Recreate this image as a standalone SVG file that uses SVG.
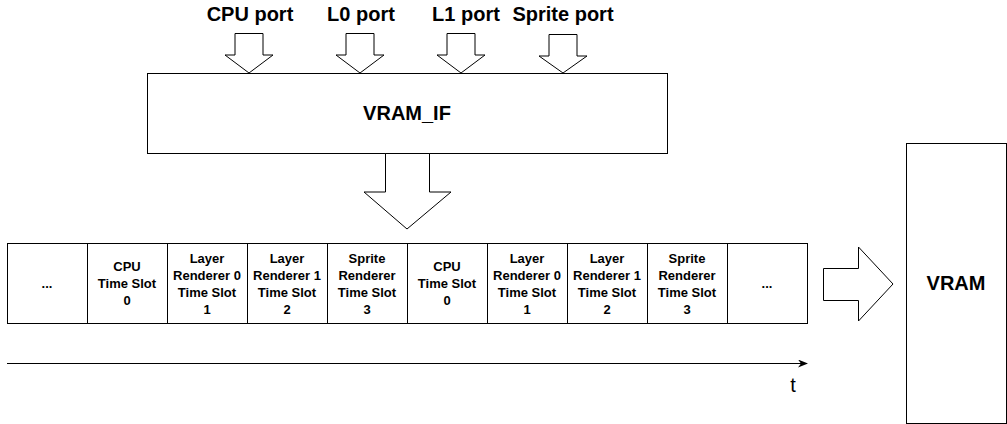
<svg xmlns="http://www.w3.org/2000/svg" width="1007" height="424" viewBox="0 0 1007 424">
<style>
.b{fill:#fff;stroke:#000;stroke-width:1}
.a{fill:#fff;stroke:#000;stroke-width:1}
text{font-family:"Liberation Sans",Arial,sans-serif;text-anchor:middle;fill:#000}
.p{font-size:20px;font-weight:bold}
.s{font-size:13px;font-weight:bold}
.l{font-size:20px;font-weight:bold}
</style>
<defs><marker id="ah" markerWidth="10" markerHeight="8" refX="9" refY="4" orient="auto" markerUnits="userSpaceOnUse"><path d="M0,0 L10,4 L0,8 L3,4 Z" fill="#000"/></marker></defs>
<rect width="1007" height="424" fill="#fff"/>
<g id="labels">
<text class="p" x="250" y="21">CPU port</text>
<text class="p" x="361" y="21">L0 port</text>
<text class="p" x="466" y="21">L1 port</text>
<text class="p" x="563" y="21">Sprite port</text>
</g>
<g id="vram_if"><rect class="b" x="147.5" y="73.5" width="520" height="80"/><text class="l" x="407" y="120">VRAM_IF</text></g>
<g id="vram"><rect class="b" x="906.5" y="143.5" width="100" height="280"/><text class="l" x="956" y="290">VRAM</text></g>
<g id="slots">
<rect class="b" x="7.5" y="243.5" width="80" height="80"/><text class="s" x="47" y="288">...</text>
<rect class="b" x="87.5" y="243.5" width="80" height="80"/><text class="s"><tspan x="127" y="271">CPU</tspan><tspan x="127" y="288">Time Slot</tspan><tspan x="127" y="305">0</tspan></text>
<rect class="b" x="167.5" y="243.5" width="80" height="80"/><text class="s"><tspan x="207" y="263">Layer</tspan><tspan x="207" y="280">Renderer 0</tspan><tspan x="207" y="297">Time Slot</tspan><tspan x="207" y="314">1</tspan></text>
<rect class="b" x="247.5" y="243.5" width="80" height="80"/><text class="s"><tspan x="287" y="263">Layer</tspan><tspan x="287" y="280">Renderer 1</tspan><tspan x="287" y="297">Time Slot</tspan><tspan x="287" y="314">2</tspan></text>
<rect class="b" x="327.5" y="243.5" width="80" height="80"/><text class="s"><tspan x="367" y="263">Sprite</tspan><tspan x="367" y="280">Renderer</tspan><tspan x="367" y="297">Time Slot</tspan><tspan x="367" y="314">3</tspan></text>
<rect class="b" x="407.5" y="243.5" width="80" height="80"/><text class="s"><tspan x="447" y="271">CPU</tspan><tspan x="447" y="288">Time Slot</tspan><tspan x="447" y="305">0</tspan></text>
<rect class="b" x="487.5" y="243.5" width="80" height="80"/><text class="s"><tspan x="527" y="263">Layer</tspan><tspan x="527" y="280">Renderer 0</tspan><tspan x="527" y="297">Time Slot</tspan><tspan x="527" y="314">1</tspan></text>
<rect class="b" x="567.5" y="243.5" width="80" height="80"/><text class="s"><tspan x="607" y="263">Layer</tspan><tspan x="607" y="280">Renderer 1</tspan><tspan x="607" y="297">Time Slot</tspan><tspan x="607" y="314">2</tspan></text>
<rect class="b" x="647.5" y="243.5" width="80" height="80"/><text class="s"><tspan x="687" y="263">Sprite</tspan><tspan x="687" y="280">Renderer</tspan><tspan x="687" y="297">Time Slot</tspan><tspan x="687" y="314">3</tspan></text>
<rect class="b" x="727.5" y="243.5" width="80" height="80"/><text class="s" x="767" y="288">...</text>
</g>
<g id="connectors">
<path class="a" d="M235,33.5 H263 V55 H273 L249,73 L225,55 H235 Z"/>
<path class="a" d="M346,33.5 H374 V55 H384 L360,73 L336,55 H346 Z"/>
<path class="a" d="M447,33.5 H475 V55 H485 L461,73 L437,55 H447 Z"/>
<path class="a" d="M549,34.5 H577 V56 H587 L563,73 L539,56 H549 Z"/>
<path class="a" d="M385.5,153.5 H429.5 V192 H451 L407,229 L364,192 H385.5 Z"/>
<path class="a" d="M823.5,268.5 V300.5 H858.5 V321 L893,284 L858.5,247 V268.5 Z"/>
<line x1="7" y1="363.5" x2="807" y2="363.5" stroke="#000" stroke-width="1" marker-end="url(#ah)"/>
</g>
<text x="793" y="392" style="font-size:20px">t</text>
</svg>
